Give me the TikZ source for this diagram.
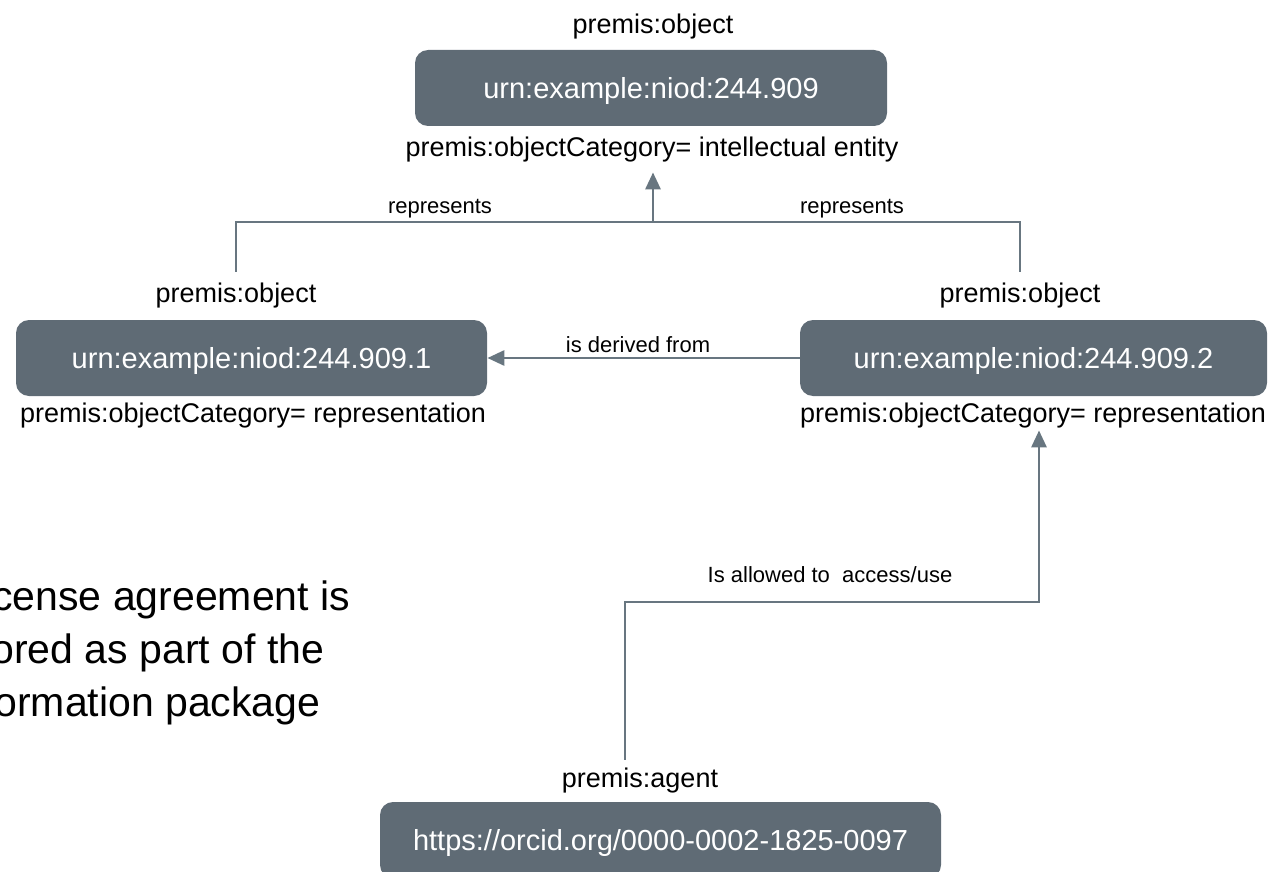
\documentclass[tikz,border=0pt]{standalone}
\usepackage{fontspec}
\setmainfont{Liberation Sans}
\usetikzlibrary{arrows.meta}
\definecolor{boxc}{HTML}{5F6B75}
\definecolor{linec}{HTML}{687680}
\tikzset{
  box/.style={fill=boxc, rounded corners=6.5pt, text=white, font=\fontsize{14.5}{17}\selectfont,
    minimum height=38pt, inner sep=0pt, text height=10.5pt, text depth=0.5pt},
  lbl/.style={font=\fontsize{13.5}{16}\selectfont, inner xsep=0pt, text height=9.5pt, text depth=2pt},
  small/.style={font=\fontsize{11}{13}\selectfont, inner sep=0pt},
  big/.style={font=\fontsize{20.5}{24}\selectfont, inner sep=0pt},
  conn/.style={draw=linec, line width=1.45pt},
  arr/.style={conn, -{Triangle[length=8.5pt,width=7.5pt]}}
}
\begin{document}
\begin{tikzpicture}[x=0.5pt,y=-0.5pt]
\useasboundingbox (0,0) rectangle (1268,872);
\clip (0,0) rectangle (1268,872);

% top object
\node[lbl, inner ysep=0pt] (ttitle) at (653,26) {premis:object};
\node[box, minimum width=236pt] (tbox) at (651,88) {urn:example:niod:244.909};
\node[lbl, inner ysep=5.75pt] (tcat) at (652,149) {premis:objectCategory= intellectual entity};

% left object
\node[lbl, inner ysep=5.75pt] (ltitle) at (236,295) {premis:object};
\node[box, minimum width=235.5pt] (lbox) at (251.5,358) {urn:example:niod:244.909.1};
\node[lbl, inner ysep=0pt] (lcat) at (253,415) {premis:objectCategory= representation};

% right object
\node[lbl, inner ysep=5.75pt] (rtitle) at (1020,295) {premis:object};
\node[box, minimum width=233.5pt] (rbox) at (1033.5,358) {urn:example:niod:244.909.2};
\node[lbl, inner ysep=1.75pt] (rcat) at (1033,415) {premis:objectCategory= representation};

% agent
\node[lbl, inner ysep=4.25pt] (atitle) at (640,780) {premis:agent};
\node[box, minimum width=280.5pt] (abox) at (660.5,840) {https://orcid.org/0000-0002-1825-0097};

% side text (cut off at the left edge, as in the reference)
\node[big, anchor=base west] (t1) at (-8,610) {cense agreement is};
\node[big, anchor=base west] (t2) at (-9,663) {ored as part of the};
\node[big, anchor=base west] (t3) at (-6,716) {ormation package};

% represents connectors
\coordinate (j) at (653,222);
\draw[conn] (ltitle.north) |- (j) -| (rtitle.north);
\draw[arr] (j) -- (j |- tcat.south);
\node[small] (rep1) at (440,209) {represents};
\node[small] (rep2) at (852,209) {represents};

% derived
\draw[arr] (rbox.west) -- (lbox.east);
\node[small] (der) at (638,345) {is derived from};

% access
\coordinate (b1) at (625,602);
\coordinate (b2) at (1039,602);
\draw[arr] (atitle.north -| b1) -- (b1) -- (b2) -- (b2 |- rcat.south);
\node[small] (acc) at (830,575) {Is allowed to~ access/use};
\end{tikzpicture}
\end{document}
